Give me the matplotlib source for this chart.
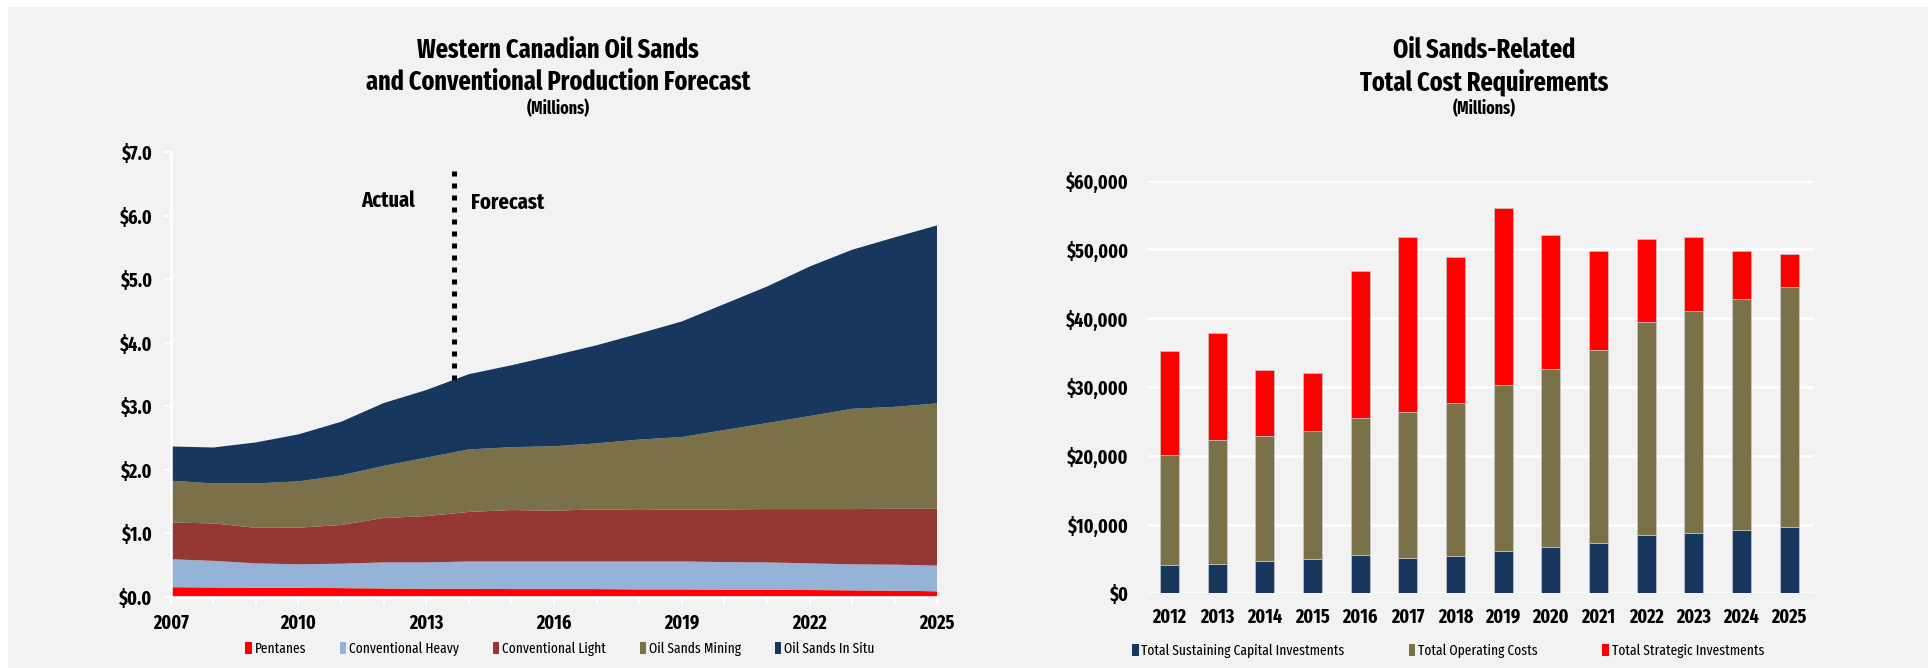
import numpy as np
import matplotlib
matplotlib.use("Agg")
import matplotlib.pyplot as plt
from matplotlib.patches import Patch, Rectangle
from matplotlib.ticker import FuncFormatter, MultipleLocator

plt.rcParams['font.family'] = ['Fira Sans Extra Condensed', 'DejaVu Sans']

# ---- production forecast (millions) ----
years = list(range(2007, 2026))
pentanes = [0.15, 0.145, 0.14, 0.14, 0.135, 0.13, 0.125, 0.125, 0.12, 0.12,
            0.12, 0.115, 0.115, 0.11, 0.11, 0.105, 0.10, 0.095, 0.085]
conv_heavy = [0.44, 0.42, 0.385, 0.37, 0.385, 0.41, 0.415, 0.43, 0.435, 0.435,
              0.435, 0.44, 0.44, 0.435, 0.43, 0.42, 0.41, 0.41, 0.405]
conv_light = [0.577, 0.59, 0.56, 0.577, 0.61, 0.70, 0.73, 0.78, 0.81, 0.80,
              0.82, 0.81, 0.82, 0.83, 0.84, 0.855, 0.87, 0.88, 0.895]
os_mining = [0.66, 0.63, 0.70, 0.73, 0.78, 0.82, 0.92, 0.985, 0.99, 1.015,
             1.04, 1.11, 1.14, 1.25, 1.355, 1.465, 1.58, 1.605, 1.66]
os_insitu = [0.54, 0.565, 0.645, 0.74, 0.845, 0.99, 1.065, 1.185, 1.29, 1.43,
             1.545, 1.67, 1.82, 1.985, 2.15, 2.355, 2.505, 2.67, 2.805]
prod_labels = ['Pentanes', 'Conventional Heavy', 'Conventional Light',
               'Oil Sands Mining', 'Oil Sands In Situ']
prod_colors = ['#ff0000', '#95b3d7', '#953735', '#7b7149', '#17375e']
split_year = 2013.65

# ---- cost requirements (millions) ----
cost_years = [str(y) for y in range(2012, 2026)]
sustaining = [4170, 4320, 4760, 5050, 5630, 5190, 5480, 6160, 6790, 7370,
              8490, 8830, 9260, 9700]
operating = [15930, 17960, 18140, 18550, 19870, 21140, 22160, 24100, 25900,
             27980, 30890, 32200, 33510, 34820]
strategic = [15200, 15620, 9500, 8400, 21400, 25470, 21200, 25710, 19390,
             14410, 12170, 10760, 6940, 4800]
cost_labels = ['Total Sustaining Capital Investments', 'Total Operating Costs',
               'Total Strategic Investments']
cost_colors = ['#17375e', '#7b7149', '#ff0000']

BG = '#f2f2f2'
W, H = 1933, 668

fig = plt.figure(figsize=(W / 100, H / 100), dpi=100, facecolor='white')
fig.patches.append(Rectangle((8 / W, 0), (1928 - 8) / W, 1 - 7 / H,
                             transform=fig.transFigure, facecolor=BG,
                             edgecolor='none', zorder=-10))

# ================= left: stacked area =================
ax1 = fig.add_axes([170.7 / W, 1 - 596.7 / H, (937.3 - 170.7) / W, (596.7 - 152.3) / H])
ax1.set_facecolor(BG)
ax1.stackplot(years, pentanes, conv_heavy, conv_light, os_mining, os_insitu,
              colors=prod_colors, labels=prod_labels, edgecolor='none')
ax1.set_xlim(2007, 2025)
ax1.set_ylim(0, 7)
ax1.xaxis.set_major_locator(MultipleLocator(3))
ax1.xaxis.set_minor_locator(MultipleLocator(1))
ax1.yaxis.set_major_locator(MultipleLocator(1))
ax1.yaxis.set_major_formatter(FuncFormatter(lambda v, p: f'${v:.1f}'))
for s in ['top', 'right']:
    ax1.spines[s].set_visible(False)
for s in ['left', 'bottom']:
    ax1.spines[s].set_color('white')
    ax1.spines[s].set_linewidth(1.8)
ax1.tick_params(axis='both', which='both', color='white', width=1.5)
ax1.tick_params(axis='x', which='both', length=6, pad=6, labelsize=14)
ax1.tick_params(axis='y', length=5, pad=8, labelsize=14)
for lab in ax1.get_xticklabels() + ax1.get_yticklabels():
    lab.set_fontweight('bold')

# actual / forecast divider
cum_top = np.sum([pentanes, conv_heavy, conv_light, os_mining, os_insitu], axis=0)
y_div = np.interp(split_year, years, cum_top)
ax1.plot([split_year, split_year], [y_div, 6.7], color='black', lw=3.6,
         linestyle=(0, (1.0, 1.4)), solid_capstyle='butt', dash_capstyle='butt')
ax1.text(2012.1, 6.24, 'Actual', ha='center', va='center', fontsize=16, fontweight='bold')
ax1.text(2014.9, 6.21, 'Forecast', ha='center', va='center', fontsize=16, fontweight='bold')

h1 = [Patch(facecolor=c, edgecolor='none') for c in prod_colors]
ax1.legend(h1, prod_labels, loc='center', bbox_to_anchor=(560 / W, 1 - 649 / H),
           bbox_transform=fig.transFigure, ncol=5, frameon=False, fontsize=10.5,
           handlelength=0.45, handleheight=0.9, handletextpad=0.2, columnspacing=2.3)

# ================= right: stacked bars =================
ax2 = fig.add_axes([1148 / W, 1 - 593.3 / H, (1813 - 1148) / W, (593.3 - 180.7) / H])
ax2.set_facecolor(BG)
x = np.arange(len(cost_years))
bottom = np.zeros(len(x))
for vals, col, lab in zip([sustaining, operating, strategic], cost_colors, cost_labels):
    ax2.bar(x, vals, width=0.4, bottom=bottom, color=col, label=lab,
            edgecolor='#c8c8c8', linewidth=0.5, zorder=3)
    bottom += np.array(vals)
ax2.set_xlim(-0.45, 13.5)
ax2.set_ylim(0, 60000)
ax2.set_xticks(x)
ax2.set_xticklabels(cost_years)
ax2.yaxis.set_major_locator(MultipleLocator(10000))
ax2.yaxis.set_major_formatter(FuncFormatter(lambda v, p: f'${v:,.0f}'))
ax2.grid(axis='y', color='white', linewidth=2, zorder=0)
for s in ax2.spines.values():
    s.set_visible(False)
ax2.tick_params(axis='both', length=0, labelsize=14)
ax2.tick_params(axis='x', pad=10)
ax2.tick_params(axis='y', pad=14)
for lab in ax2.get_xticklabels() + ax2.get_yticklabels():
    lab.set_fontweight('bold')

h2 = [Patch(facecolor=c, edgecolor='none') for c in cost_colors]
ax2.legend(h2, cost_labels, loc='center', bbox_to_anchor=(1448 / W, 1 - 651 / H),
           bbox_transform=fig.transFigure, ncol=3, frameon=False, fontsize=10.5,
           handlelength=0.45, handleheight=0.9, handletextpad=0.2, columnspacing=4.4)

# ================= titles =================
for cx, lines in [(558, ['Western Canadian Oil Sands', 'and Conventional Production Forecast']),
                  (1484, ['Oil Sands-Related', 'Total Cost Requirements'])]:
    fig.text(cx / W, 1 - 50 / H, lines[0], ha='center', va='center', fontsize=19, fontweight='bold')
    fig.text(cx / W, 1 - 82 / H, lines[1], ha='center', va='center', fontsize=19, fontweight='bold')
    fig.text(cx / W, 1 - 109 / H, '(Millions)', ha='center', va='center', fontsize=12.5, fontweight='bold')

fig.savefig('out.png', dpi=100, facecolor='white')
